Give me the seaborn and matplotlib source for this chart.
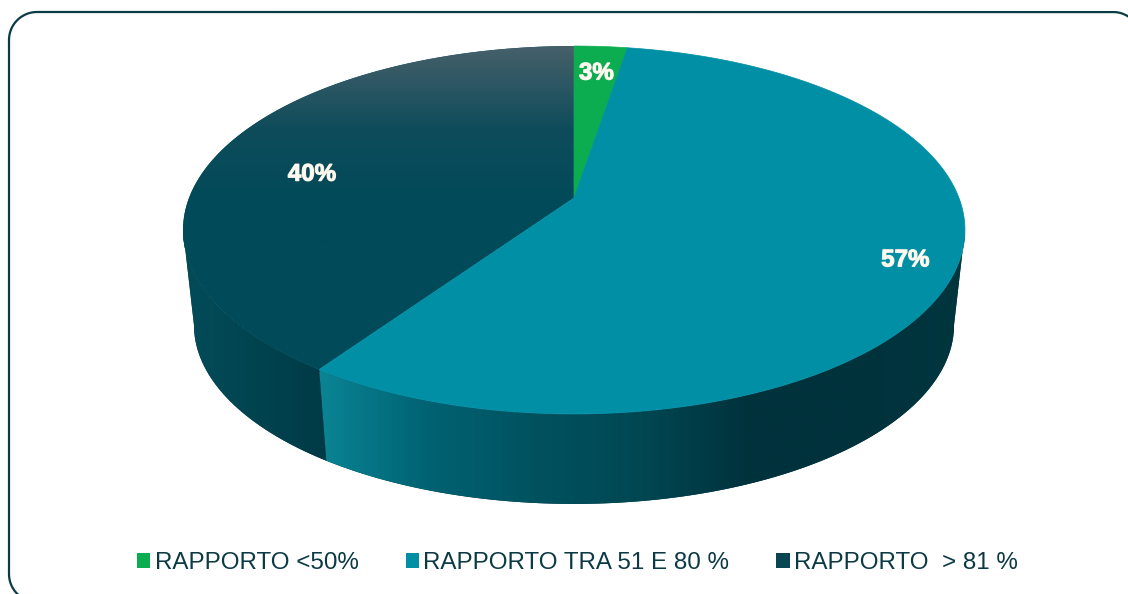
"""Perspective pie of the RAPPORTO classes, drawn by hand on a pixel-sized axes."""

import numpy as np

import matplotlib
matplotlib.use("Agg")
import matplotlib.pyplot as plt
import matplotlib.patches as mpatches
import matplotlib.patheffects as pe
import seaborn as sns

categories = ["RAPPORTO <50%", "RAPPORTO TRA 51 E 80 %", "RAPPORTO  > 81 %"]
shares = [2.6, 57.0, 40.4]
slice_colors = ["#0bad50", "#008fa5", "#0a4554"]

sns.set_style("white")
plt.rcParams["font.family"] = ["Liberation Sans", "DejaVu Sans"]

W, H = 1128, 594
TEXT_COLOR = "#0c3a44"

# projection of the unit disc: apex of the slices, perspective factor, radii
APEX_X, APEX_Y = 574, 198
K, RX, RY = 0.1739, 385, 178.4
# lower rim of the wall
BOTTOM_SCALE, BOTTOM_Y = 0.972, 294


def top_rim(theta, r=1.0):
    """theta in degrees, clockwise from 12 o'clock."""
    u = r * np.sin(np.radians(theta))
    v = r * np.cos(np.radians(theta))
    w = 1 + K * v
    return APEX_X + RX * u / w, APEX_Y - RY * v / w


def bottom_rim(theta):
    x, y = top_rim(theta)
    return APEX_X + BOTTOM_SCALE * (x - APEX_X), BOTTOM_Y + BOTTOM_SCALE * (y - APEX_Y)


def rounded_frame(x0, y0, x1, y1, r):
    """Outline of a rounded box as a polyline (y axis points down)."""
    a = np.linspace(0, np.pi / 2, 40)
    xs = np.r_[x0 + r - r * np.cos(a), x1 - r + r * np.sin(a),
               x1 - r + r * np.cos(a), x0 + r - r * np.sin(a), x0]
    ys = np.r_[y0 + r - r * np.sin(a), y0 + r - r * np.cos(a),
               y1 - r + r * np.sin(a), y1 - r + r * np.cos(a), y0 + r]
    return xs, ys


fig, ax = plt.subplots(figsize=(W / 100, H / 100), dpi=100)
fig.subplots_adjust(0, 0, 1, 1)

edges = np.concatenate([[0], np.cumsum(shares)]) / np.sum(shares) * 360

# the wall only shows between the rightmost and leftmost point of the rim
all_t = np.linspace(0, 360, 3601)
t_right = all_t[np.argmax(top_rim(all_t)[0])]
t_left = all_t[np.argmin(top_rim(all_t)[0])]

# walls, shaded along x; the green slice sits at the back and has none
wall_cmaps = [
    None,
    sns.blend_palette(["#0a8494", "#006272", "#00525f", "#004752", "#00323c", "#00323c", "#00363f"], as_cmap=True),
    sns.blend_palette(["#044b59", "#004450", "#003a46"], as_cmap=True),
]
wall_ranges = [None, (320, 965), (183, 327)]
for i in range(len(shares)):
    start, stop = max(edges[i], t_right), min(edges[i + 1], t_left)
    if stop <= start:
        continue
    t = np.linspace(start, stop, 500)
    xt, yt = top_rim(t)
    xb, yb = bottom_rim(t)
    pts = np.column_stack([np.r_[xt, xb[::-1]], np.r_[yt, yb[::-1]]])
    # same-coloured fill under the image closes the seam between the walls
    wall = mpatches.Polygon(pts, closed=True, facecolor=wall_cmaps[i](0.7), edgecolor="none", zorder=1)
    ax.add_patch(wall)
    lo, hi = wall_ranges[i]
    img = ax.imshow(np.linspace(0, 1, 256)[None, :], cmap=wall_cmaps[i], aspect="auto",
                    extent=(lo, hi, 520, 200), zorder=1)
    img.set_clip_path(wall)

# top faces; the dark one fades to grey towards the back
for i in range(len(shares)):
    t = np.linspace(edges[i], edges[i + 1], 300)
    xt, yt = top_rim(t)
    pts = np.column_stack([np.r_[APEX_X, xt], np.r_[APEX_Y, yt]])
    if i == 2:
        grad = sns.blend_palette(["#46606a", "#0f4c5b", "#004a59", "#004a59", "#004a59"], as_cmap=True)
        face = mpatches.Polygon(pts, closed=True, facecolor="#004a59", edgecolor="none", zorder=2)
        ax.add_patch(face)
        img = ax.imshow(np.linspace(0, 1, 256)[:, None], cmap=grad, aspect="auto",
                        extent=(180, 580, 372, 46), zorder=2)
        img.set_clip_path(face)
    else:
        ax.add_patch(mpatches.Polygon(pts, closed=True, facecolor=slice_colors[i],
                                      edgecolor=slice_colors[i], linewidth=0.5, zorder=3))

# percentage labels
label_radius = [0.815, 0.875, 0.74]
label_nudge = [2, 0, 14]
for i, share in enumerate(shares):
    x, y = top_rim((edges[i] + edges[i + 1]) / 2, label_radius[i])
    ax.text(x, y + label_nudge[i], f"{share:.0f}%", ha="center", va="center", color="#fdfaf2",
            fontsize=17.4, fontweight="bold", zorder=5,
            path_effects=[pe.withStroke(linewidth=0.8, foreground="#f5efe2")])

# rounded frame running off the right and bottom edge
frame_x, frame_y = rounded_frame(9, 12, 1141, 602, 28)
ax.plot(frame_x, frame_y, color="#0a3c46", linewidth=1.6, zorder=1)

handles = [mpatches.Patch(facecolor=c, edgecolor="none", label=n) for c, n in zip(slice_colors, categories)]
ax.legend(handles=handles, loc="lower left", bbox_to_anchor=(137 / W, 1 - 574 / H), ncol=3, frameon=False,
          fontsize=17.4, labelcolor=TEXT_COLOR, handlelength=0.55, handleheight=0.55,
          handletextpad=0.18, columnspacing=1.95, borderpad=0, borderaxespad=0)

ax.set_xlim(0, W)
ax.set_ylim(H, 0)
ax.axis("off")

fig.savefig("out.png", dpi=100, facecolor="white")
plt.close(fig)
